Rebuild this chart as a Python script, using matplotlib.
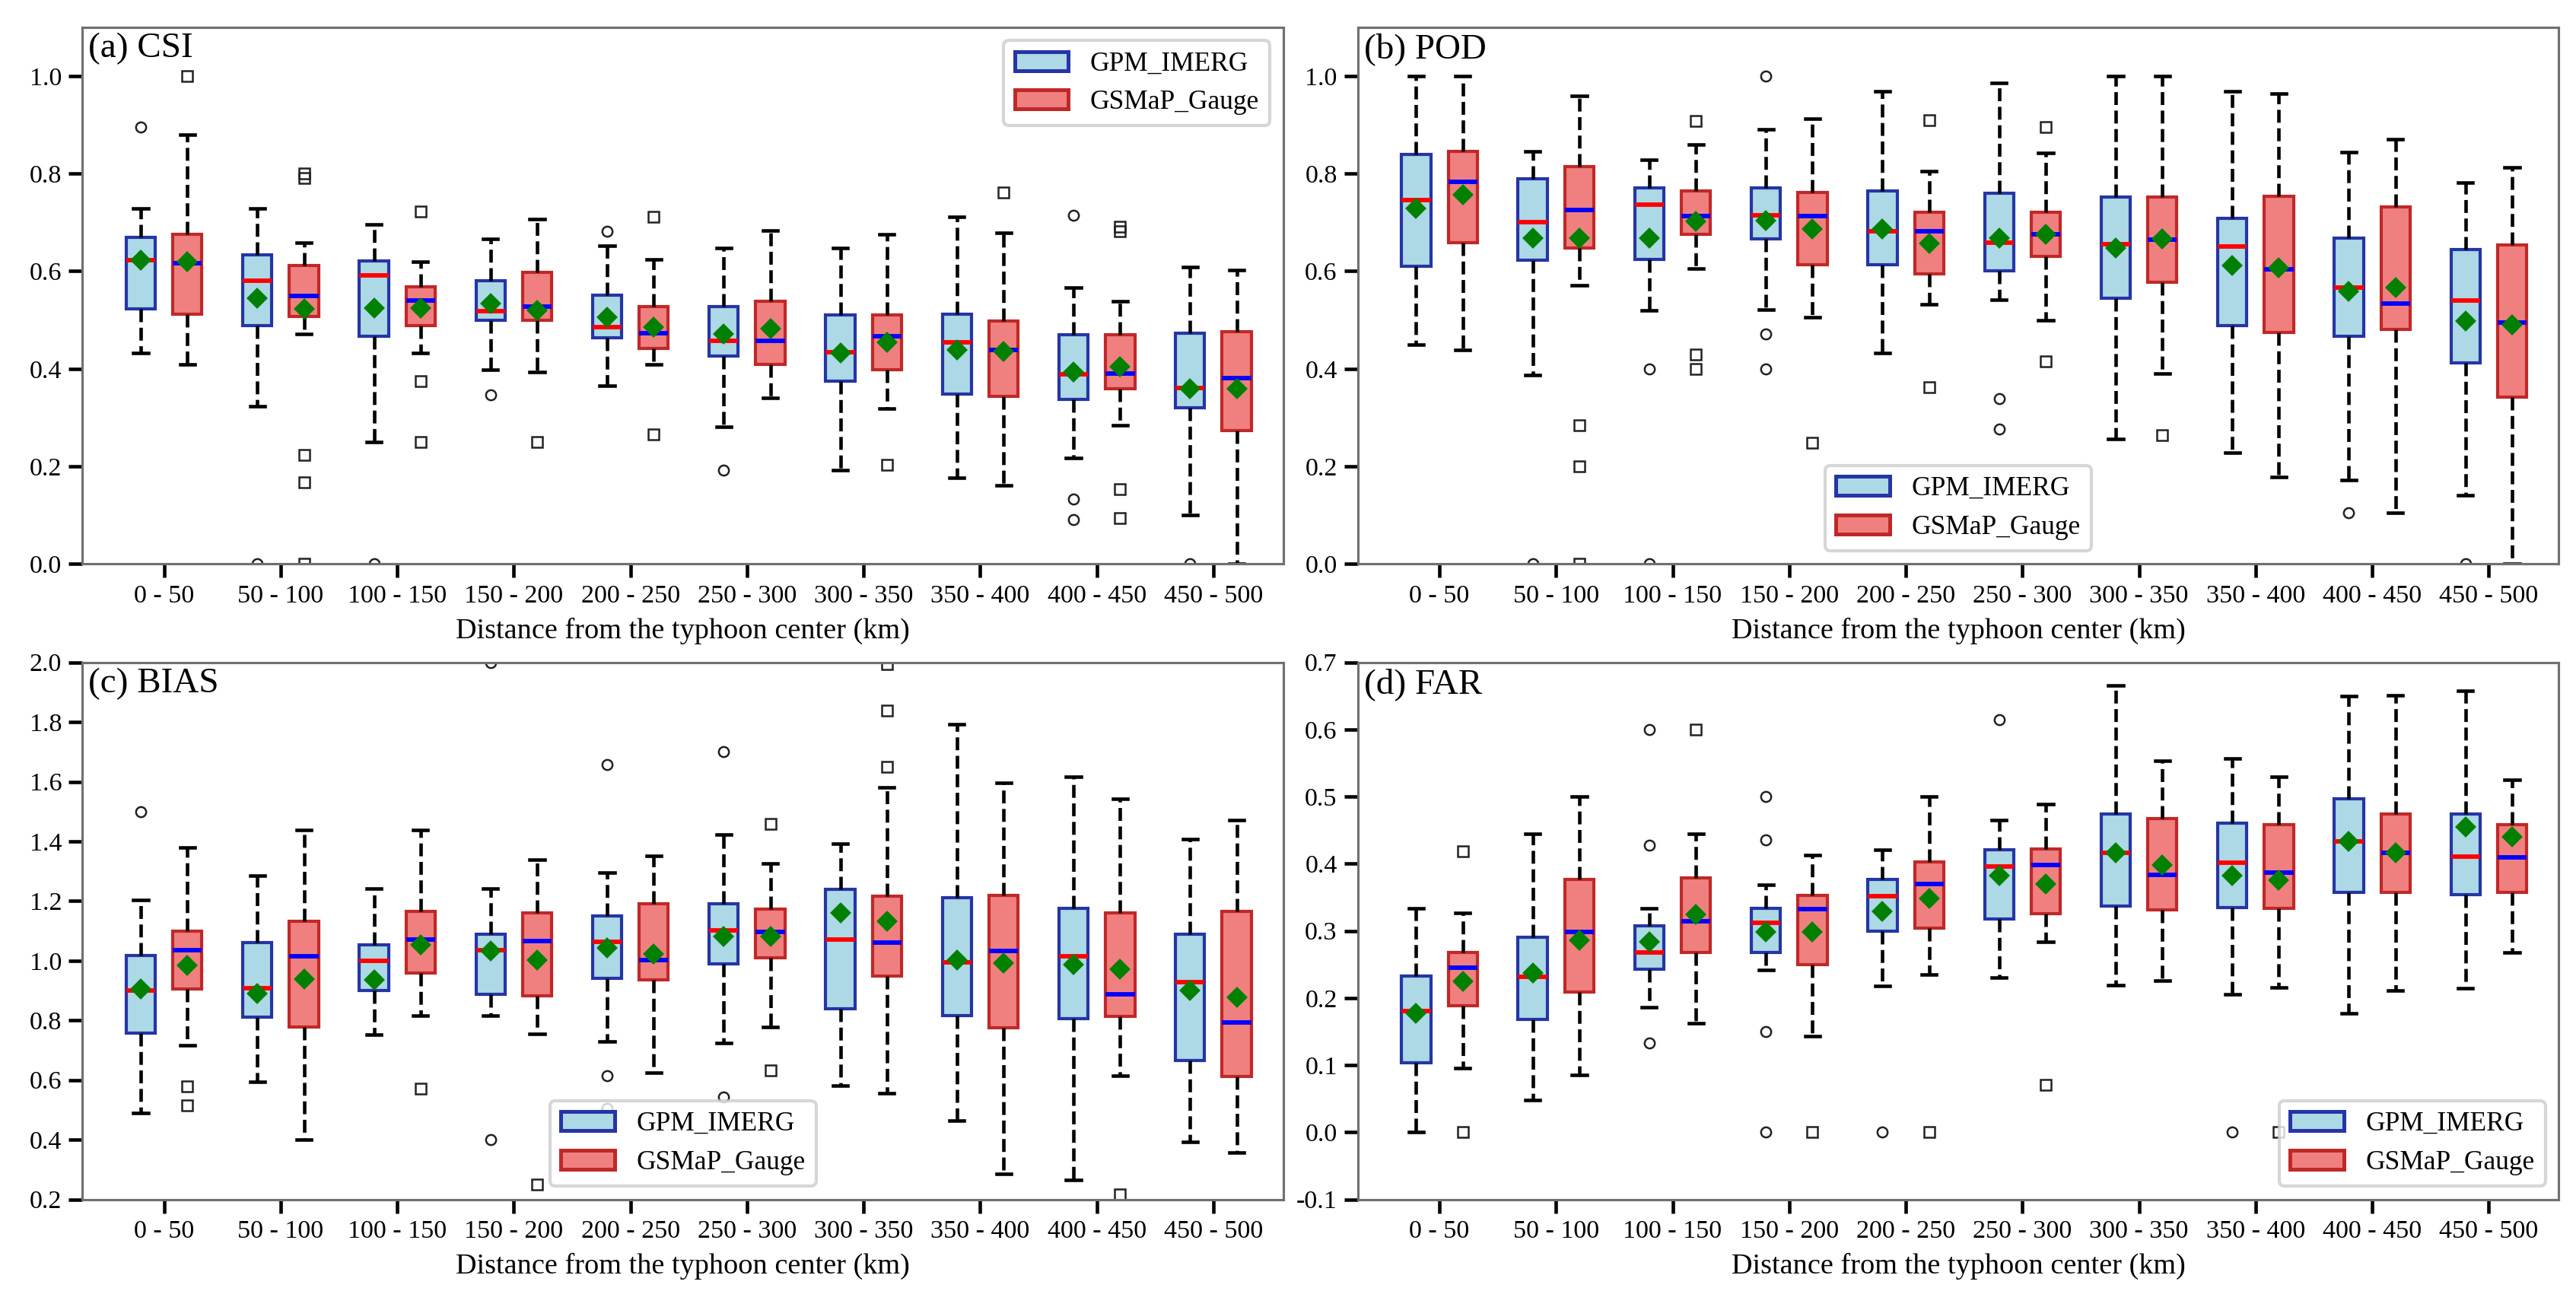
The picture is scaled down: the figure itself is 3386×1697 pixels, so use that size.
import matplotlib
matplotlib.use("Agg")
import matplotlib.pyplot as plt
from matplotlib.patches import Patch
from matplotlib.ticker import FormatStrFormatter, MultipleLocator

plt.rcParams['font.family'] = ['Liberation Serif', 'DejaVu Serif']
plt.rcParams['axes.unicode_minus'] = False

# distance bins
bins = ['0 - 50', '50 - 100', '100 - 150', '150 - 200', '200 - 250',
        '250 - 300', '300 - 350', '350 - 400', '400 - 450', '450 - 500']

# each row: whisker low, Q1, median, Q3, whisker high
csi_gpm = [[0.433, 0.523, 0.622, 0.669, 0.728], [0.324, 0.489, 0.580, 0.634, 0.728],
           [0.250, 0.467, 0.592, 0.621, 0.696], [0.398, 0.500, 0.518, 0.580, 0.666],
           [0.366, 0.463, 0.486, 0.551, 0.652], [0.282, 0.426, 0.457, 0.527, 0.647],
           [0.192, 0.374, 0.434, 0.511, 0.647], [0.177, 0.349, 0.455, 0.512, 0.712],
           [0.218, 0.338, 0.389, 0.470, 0.566], [0.100, 0.321, 0.361, 0.473, 0.608]]
csi_gpm_mean = [0.622, 0.545, 0.525, 0.533, 0.505, 0.472, 0.433, 0.438, 0.393, 0.359]
csi_gpm_out = [[0.895], [0.0], [0.0], [0.346], [0.682], [0.192], [], [],
               [0.715, 0.133, 0.091], [0.0]]

csi_gsm = [[0.409, 0.512, 0.616, 0.676, 0.879], [0.472, 0.507, 0.550, 0.611, 0.658],
           [0.433, 0.489, 0.540, 0.568, 0.620], [0.393, 0.500, 0.527, 0.597, 0.706],
           [0.409, 0.442, 0.473, 0.528, 0.624], [0.340, 0.409, 0.457, 0.539, 0.684],
           [0.318, 0.398, 0.466, 0.511, 0.676], [0.161, 0.344, 0.438, 0.498, 0.678],
           [0.285, 0.359, 0.391, 0.470, 0.538], [0.000, 0.274, 0.381, 0.476, 0.602]]
csi_gsm_mean = [0.620, 0.523, 0.525, 0.520, 0.486, 0.483, 0.454, 0.436, 0.404, 0.359]
csi_gsm_out = [[1.0], [0.801, 0.791, 0.223, 0.167, 0.0], [0.722, 0.375, 0.250], [0.250],
               [0.712, 0.266], [], [0.204], [0.762], [0.691, 0.682, 0.153, 0.095], []]

pod_gpm = [[0.450, 0.610, 0.745, 0.839, 1.000], [0.388, 0.623, 0.701, 0.789, 0.845],
           [0.519, 0.624, 0.737, 0.770, 0.828], [0.521, 0.666, 0.715, 0.771, 0.890],
           [0.432, 0.613, 0.682, 0.765, 0.968], [0.541, 0.601, 0.659, 0.760, 0.985],
           [0.256, 0.545, 0.656, 0.752, 1.000], [0.228, 0.489, 0.650, 0.709, 0.969],
           [0.172, 0.466, 0.566, 0.667, 0.844], [0.141, 0.412, 0.540, 0.645, 0.782]]
pod_gpm_mean = [0.728, 0.668, 0.667, 0.703, 0.686, 0.667, 0.647, 0.611, 0.558, 0.498]
pod_gpm_out = [[], [0.0], [0.399, 0.0], [1.0, 0.472, 0.399], [], [0.339, 0.277],
               [], [], [0.105], [0.0]]

pod_gsm = [[0.438, 0.659, 0.783, 0.845, 1.000], [0.571, 0.647, 0.725, 0.814, 0.959],
           [0.606, 0.676, 0.713, 0.765, 0.859], [0.506, 0.613, 0.713, 0.761, 0.912],
           [0.532, 0.595, 0.682, 0.720, 0.805], [0.500, 0.630, 0.676, 0.721, 0.842],
           [0.391, 0.578, 0.665, 0.752, 1.000], [0.178, 0.474, 0.604, 0.754, 0.964],
           [0.105, 0.480, 0.534, 0.732, 0.871], [0.000, 0.342, 0.494, 0.654, 0.813]]
pod_gsm_mean = [0.756, 0.668, 0.702, 0.686, 0.657, 0.675, 0.666, 0.607, 0.566, 0.490]
pod_gsm_out = [[], [0.285, 0.200, 0.0], [0.907, 0.429, 0.399], [0.249], [0.909, 0.363],
               [0.895, 0.415], [0.264], [], [], []]

bias_gpm = [[0.489, 0.757, 0.900, 1.017, 1.204], [0.593, 0.810, 0.908, 1.061, 1.285],
            [0.751, 0.901, 0.999, 1.052, 1.243], [0.815, 0.888, 1.036, 1.090, 1.243],
            [0.729, 0.942, 1.064, 1.149, 1.295], [0.723, 0.989, 1.101, 1.190, 1.423],
            [0.581, 0.839, 1.071, 1.240, 1.392], [0.465, 0.815, 0.995, 1.211, 1.793],
            [0.264, 0.806, 1.015, 1.176, 1.617], [0.393, 0.665, 0.929, 1.089, 1.408]]
bias_gpm_mean = [0.904, 0.890, 0.936, 1.033, 1.044, 1.080, 1.159, 1.002, 0.988, 0.901]
bias_gpm_out = [[1.500], [], [], [2.0, 0.400], [1.657, 0.615, 0.504], [1.700, 0.542],
                [], [], [], []]

bias_gsm = [[0.716, 0.905, 1.034, 1.099, 1.379], [0.400, 0.778, 1.015, 1.131, 1.438],
            [0.815, 0.958, 1.071, 1.166, 1.439], [0.754, 0.883, 1.065, 1.160, 1.338],
            [0.625, 0.936, 1.001, 1.190, 1.351], [0.778, 1.009, 1.096, 1.173, 1.327],
            [0.555, 0.949, 1.061, 1.216, 1.581], [0.286, 0.775, 1.033, 1.218, 1.595],
            [0.615, 0.814, 0.888, 1.159, 1.543], [0.357, 0.611, 0.794, 1.165, 1.470]]
bias_gsm_mean = [0.985, 0.939, 1.052, 1.002, 1.023, 1.082, 1.131, 0.991, 0.971, 0.877]
bias_gsm_out = [[0.579, 0.515], [], [0.570], [0.250], [], [1.458, 0.633],
                [1.994, 1.839, 1.651], [], [0.217], []]

far_gpm = [[0.000, 0.104, 0.181, 0.233, 0.333], [0.048, 0.168, 0.231, 0.290, 0.445],
           [0.186, 0.243, 0.268, 0.307, 0.333], [0.242, 0.268, 0.312, 0.334, 0.369],
           [0.218, 0.299, 0.352, 0.377, 0.421], [0.230, 0.318, 0.396, 0.421, 0.465],
           [0.219, 0.337, 0.416, 0.474, 0.666], [0.205, 0.335, 0.402, 0.461, 0.557],
           [0.177, 0.357, 0.433, 0.497, 0.650], [0.215, 0.354, 0.411, 0.474, 0.658]]
far_gpm_mean = [0.177, 0.237, 0.284, 0.298, 0.329, 0.382, 0.416, 0.382, 0.433, 0.455]
far_gpm_out = [[], [], [0.600, 0.428, 0.133], [0.500, 0.436, 0.150, 0.0], [0.0],
               [0.615], [], [0.0], [], []]

far_gsm = [[0.095, 0.188, 0.245, 0.268, 0.327], [0.085, 0.209, 0.298, 0.377, 0.500],
           [0.162, 0.268, 0.314, 0.379, 0.445], [0.143, 0.250, 0.332, 0.353, 0.413],
           [0.235, 0.304, 0.370, 0.403, 0.500], [0.284, 0.326, 0.398, 0.422, 0.489],
           [0.226, 0.331, 0.383, 0.467, 0.553], [0.216, 0.333, 0.387, 0.458, 0.530],
           [0.211, 0.357, 0.416, 0.474, 0.651], [0.268, 0.357, 0.409, 0.458, 0.525]]
far_gsm_mean = [0.225, 0.286, 0.324, 0.298, 0.348, 0.370, 0.398, 0.376, 0.416, 0.440]
far_gsm_out = [[0.419, 0.0], [], [0.600], [0.0], [0.0], [0.071], [], [0.0], [], []]

gpm_face, gpm_edge = 'lightblue', '#2535a5'
gsm_face, gsm_edge = 'lightcoral', '#c02828'


def make_stats(rows, means, outs):
    stats = []
    for r, m, o in zip(rows, means, outs):
        stats.append({'whislo': r[0], 'q1': r[1], 'med': r[2], 'q3': r[3],
                      'whishi': r[4], 'mean': m, 'fliers': o})
    return stats


def draw(ax, rows, means, outs, pos, face, edge, medcolor, flier):
    ax.bxp(make_stats(rows, means, outs), positions=pos, widths=0.25,
           patch_artist=True, showmeans=True,
           boxprops=dict(facecolor=face, edgecolor=edge, linewidth=1.0),
           medianprops=dict(color=medcolor, linewidth=1.4),
           meanprops=dict(marker='D', markerfacecolor='green', markeredgecolor='green',
                          markersize=3.8),
           whiskerprops=dict(color='black', linestyle='--', linewidth=1.1),
           capprops=dict(color='black', linewidth=1.1),
           flierprops=dict(marker=flier, markerfacecolor='none', markeredgecolor='#222222',
                           markersize=3.2, markeredgewidth=0.6))


panels = [
    ('(a) CSI', csi_gpm, csi_gpm_mean, csi_gpm_out, csi_gsm, csi_gsm_mean, csi_gsm_out,
     (0, 1.1), 0.2, 'upper right'),
    ('(b) POD', pod_gpm, pod_gpm_mean, pod_gpm_out, pod_gsm, pod_gsm_mean, pod_gsm_out,
     (0, 1.1), 0.2, 'lower center'),
    ('(c) BIAS', bias_gpm, bias_gpm_mean, bias_gpm_out, bias_gsm, bias_gsm_mean, bias_gsm_out,
     (0.2, 2.0), 0.2, 'lower center'),
    ('(d) FAR', far_gpm, far_gpm_mean, far_gpm_out, far_gsm, far_gsm_mean, far_gsm_out,
     (-0.1, 0.7), 0.1, 'lower right'),
]

fig, axes = plt.subplots(2, 2, figsize=(3387 / 300, 1697 / 300), dpi=300)
fig.subplots_adjust(left=0.032, right=0.993, top=0.979, bottom=0.071,
                    wspace=0.062, hspace=0.183)

x = list(range(1, len(bins) + 1))
for ax, p in zip(axes.flat, panels):
    title, g_rows, g_mean, g_out, s_rows, s_mean, s_out, ylim, step, loc = p
    draw(ax, g_rows, g_mean, g_out, [i - 0.2 for i in x], gpm_face, gpm_edge, 'red', 'o')
    draw(ax, s_rows, s_mean, s_out, [i + 0.2 for i in x], gsm_face, gsm_edge, 'blue', 's')
    ax.set_xticks(x)
    ax.set_xticklabels(bins)
    ax.set_xlim(0.3, 10.6)
    ax.set_ylim(*ylim)
    ax.yaxis.set_major_locator(MultipleLocator(step))
    ax.yaxis.set_major_formatter(FormatStrFormatter('%.1f'))
    ax.tick_params(axis='both', labelsize=8.2, length=4.3, width=1.1, pad=2.2,
                   direction='out')
    for sp in ax.spines.values():
        sp.set_color('#707070')
        sp.set_linewidth(0.75)
    ax.set_xlabel('Distance from the typhoon center (km)', fontsize=9.2, labelpad=3)
    ax.text(0.005, 0.99, title, transform=ax.transAxes, fontsize=11.3, va='top', ha='left')
    handles = [Patch(facecolor=gpm_face, edgecolor=gpm_edge, linewidth=1.2, label='GPM_IMERG'),
               Patch(facecolor=gsm_face, edgecolor=gsm_edge, linewidth=1.2, label='GSMaP_Gauge')]
    ax.legend(handles=handles, loc=loc, fontsize=8.5)

fig.savefig('out.png', dpi=300)
